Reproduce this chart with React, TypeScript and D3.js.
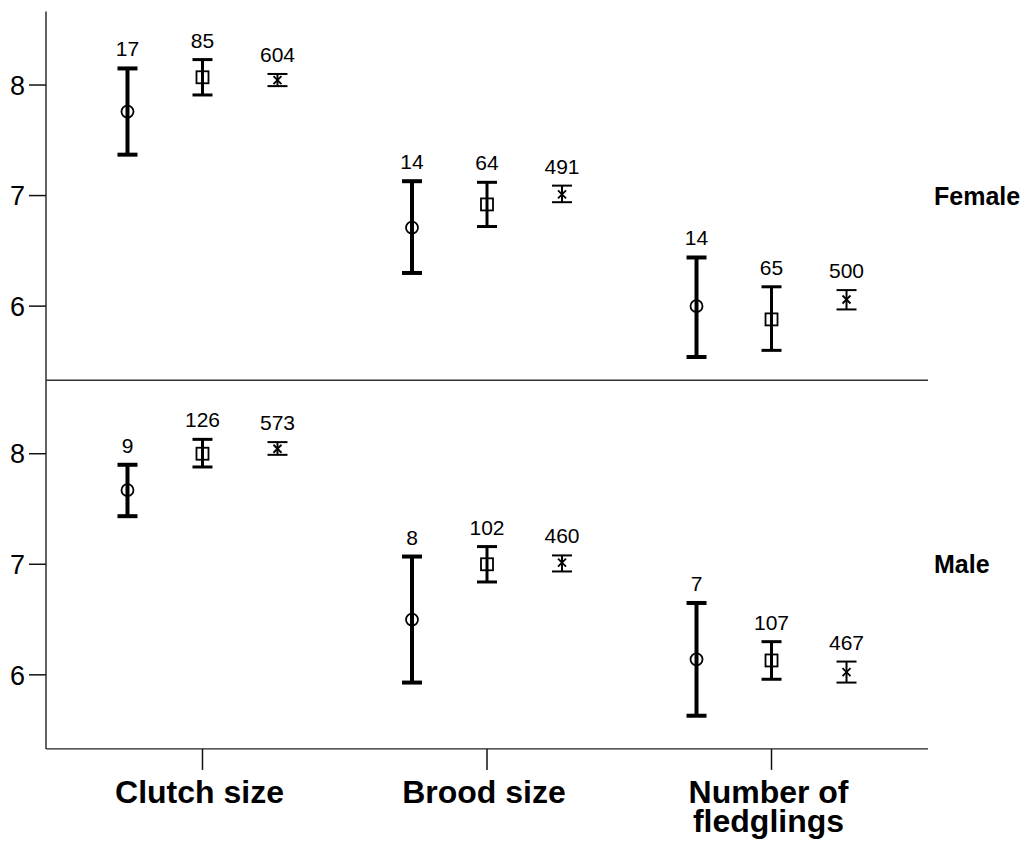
import React from 'react';
import * as d3 from 'd3';

const categories = ['Clutch size', 'Brood size', 'Number of fledglings'];
const groups = ['circle', 'square', 'star'];
const panels = ['Female', 'Male'];

// values are listed category by category, three groups each
const femaleN = [17, 85, 604, 14, 64, 491, 14, 65, 500];
const femaleMean = [7.76, 8.07, 8.045, 6.71, 6.92, 7.01, 6.0, 5.88, 6.06];
const femaleLow = [7.37, 7.91, 7.99, 6.3, 6.72, 6.94, 5.54, 5.6, 5.97];
const femaleHigh = [8.15, 8.23, 8.1, 7.13, 7.12, 7.09, 6.44, 6.175, 6.145];

const maleN = [9, 126, 573, 8, 102, 460, 7, 107, 467];
const maleMean = [7.67, 8.0, 8.045, 6.5, 7.0, 7.015, 6.14, 6.13, 6.025];
const maleLow = [7.435, 7.88, 7.99, 5.93, 6.84, 6.935, 5.63, 5.96, 5.93];
const maleHigh = [7.9, 8.13, 8.105, 7.07, 7.16, 7.08, 6.65, 6.3, 6.12];

const yDomain = [5.33, 8.665];

const W = 1027;
const H = 844;
const left = 46;
const right = 928;
const top = 11.5;
const panelH = 368.7;
const font = '"Liberation Sans", Arial, Helvetica, sans-serif';

const barWidth: Record<string, number> = { circle: 4, square: 3, star: 2 };

export default function App() {
  const x = d3.scalePoint<string>().domain(categories).range([left, right]).padding(0.55);
  const xg = d3.scalePoint<string>().domain(groups).range([-75, 75]);
  const y = d3.scaleLinear().domain(yDomain).range([panelH, 0]);
  const ticks = y.ticks(3);

  const series = [
    { n: femaleN, mean: femaleMean, low: femaleLow, high: femaleHigh },
    { n: maleN, mean: maleMean, low: maleLow, high: maleHigh },
  ];

  const marker = (g: string) => {
    if (g === 'circle') return <circle r={6} fill="none" stroke="#000" strokeWidth={1.8} />;
    if (g === 'square') return <rect x={-6} y={-6} width={12} height={12} fill="none" stroke="#000" strokeWidth={1.8} />;
    return <path d="M-4,-4L4,4M-4,4L4,-4" stroke="#000" strokeWidth={1.8} />;
  };

  return (
    <svg width={W} height={H} style={{ position: 'absolute', left: 0, top: 0, background: '#fff' }} fontFamily={font}>
      {panels.map((p, pi) => {
        const s = series[pi];
        const oy = top + pi * panelH;
        return (
          <g key={p} transform={`translate(0,${oy})`}>
            {ticks.map((t) => (
              <g key={t} transform={`translate(0,${y(t)})`}>
                <line x1={left - 17} x2={left} stroke="#111" strokeWidth={1.5} />
                <text x={left - 21} dy="0.36em" textAnchor="end" fontSize={27}>{t}</text>
              </g>
            ))}
            {categories.map((c, ci) =>
              groups.map((g, gi) => {
                const i = ci * 3 + gi;
                const cx = (x(c) as number) + (xg(g) as number);
                const sw = barWidth[g];
                return (
                  <g key={c + g} transform={`translate(${cx},0)`}>
                    <line y1={y(s.low[i])} y2={y(s.high[i])} stroke="#000" strokeWidth={sw} />
                    <line x1={-10} x2={10} y1={y(s.high[i])} y2={y(s.high[i])} stroke="#000" strokeWidth={sw} />
                    <line x1={-10} x2={10} y1={y(s.low[i])} y2={y(s.low[i])} stroke="#000" strokeWidth={sw} />
                    <g transform={`translate(0,${y(s.mean[i])})`}>{marker(g)}</g>
                    <text y={y(s.high[i]) - 12} textAnchor="middle" fontSize={21}>{s.n[i]}</text>
                  </g>
                );
              })
            )}
            <text x={934} y={y(7) + 9} fontSize={25} fontWeight="bold">{p}</text>
          </g>
        );
      })}
      <line x1={left} x2={left} y1={top} y2={top + 2 * panelH} stroke="#222" strokeWidth={1.4} />
      <line x1={left} x2={right} y1={top + panelH} y2={top + panelH} stroke="#333" strokeWidth={1.4} />
      <line x1={left} x2={right} y1={top + 2 * panelH} y2={top + 2 * panelH} stroke="#222" strokeWidth={1.4} />
      {categories.map((c) => {
        const cx = x(c) as number;
        const words = c === 'Number of fledglings' ? ['Number of', 'fledglings'] : [c];
        return (
          <g key={c}>
            <line x1={cx} x2={cx} y1={top + 2 * panelH} y2={top + 2 * panelH + 21} stroke="#111" strokeWidth={1.5} />
            {words.map((w, wi) => (
              <text key={w} x={cx - 3} y={803 + wi * 29} textAnchor="middle" fontSize={32} fontWeight="bold">{w}</text>
            ))}
          </g>
        );
      })}
    </svg>
  );
}
